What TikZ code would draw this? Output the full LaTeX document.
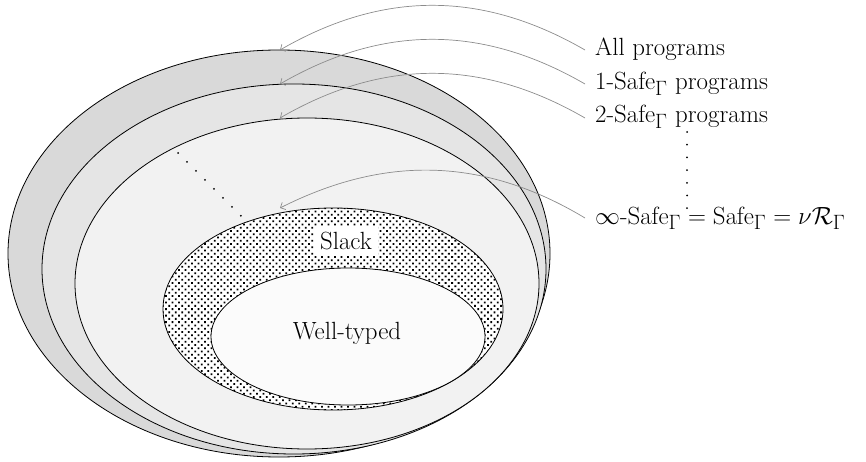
\documentclass[tikz,border=0pt]{standalone}
\usetikzlibrary{patterns.meta,arrows.meta}
\definecolor{fillA}{gray}{0.85}
\definecolor{fillB}{gray}{0.90}
\definecolor{fillC}{gray}{0.95}
\definecolor{fillD}{gray}{0.985}
\definecolor{conn}{gray}{0.55}
\begin{document}
\begin{tikzpicture}[x=1pt,y=-1pt,
  region/.style={draw=black,line width=0.8pt},
  lbl/.style={anchor=base west,inner sep=0pt,font=\Huge},
  pointer/.style={draw=conn,line width=0.7pt,-{Straight Barb[length=4pt,width=8pt]}},
  dotline/.style={line width=2pt,line cap=round,dash pattern=on 0pt off 12.7pt}]
\useasboundingbox (0,0) rectangle (866,462);
% nested regions
\path[region,fill=fillA] (279,253.5) ellipse [x radius=271pt, y radius=203.5pt];
\path[region,fill=fillB] (294,269) ellipse [x radius=252pt, y radius=185pt];
\path[region,fill=fillC] (307,283.5) ellipse [x radius=232pt, y radius=165.5pt];
\path[fill=white] (333,309) ellipse [x radius=170pt, y radius=101pt];
\path[pattern={Dots[distance=4.6pt,radius=1.25pt,angle=45]}] (333,309) ellipse [x radius=170pt, y radius=101pt];
\path[region] (333,309) ellipse [x radius=170pt, y radius=101pt];
\path[region,fill=fillD] (348,336.5) ellipse [x radius=137pt, y radius=68.5pt];
% inner labels
\node[font=\Huge,fill=white,inner sep=6pt] (slack) at (346,241) {Slack};
\node[font=\Huge,inner sep=0pt] (wt) at (347,333) {Well-typed};
% outer labels
\node[lbl] (l0) at (595,56) {All programs};
\node[lbl] (l1) at (595,90) {1-Safe$_\Gamma$ programs};
\node[lbl] (l2) at (595,123) {2-Safe$_\Gamma$ programs};
\node[lbl] (l3) at (595,224) {$\infty$-Safe$_\Gamma = \mathrm{Safe}_\Gamma = \nu\mathcal{R}_\Gamma$};
% targets
\coordinate (t0) at (280,50);
\coordinate (t1) at (280,84);
\coordinate (t2) at (280,118);
\coordinate (t3) at (280,208);
\coordinate (s0) at (585,50);
\coordinate (s1) at (585,84);
\coordinate (s2) at (585,118);
\coordinate (s3) at (585,218);
\draw[pointer] (s0) .. controls +(-103,-59.5) and +(103,-59.5) .. (t0);
\draw[pointer] (s1) .. controls +(-103,-59.5) and +(103,-59.5) .. (t1);
\draw[pointer] (s2) .. controls +(-103,-59.5) and +(103,-59.5) .. (t2);
\draw[pointer] (s3) .. controls +(-103,-62) and +(103,-52) .. (t3);
% dotted continuations
\coordinate (d0) at (178,153);
\coordinate (d1) at (241,216);
\coordinate (v0) at (687,132);
\coordinate (v1) at (687,210);
\draw[dotline] (d0) -- (d1);
\draw[dotline] (v0) -- (v1);
\end{tikzpicture}
\end{document}
